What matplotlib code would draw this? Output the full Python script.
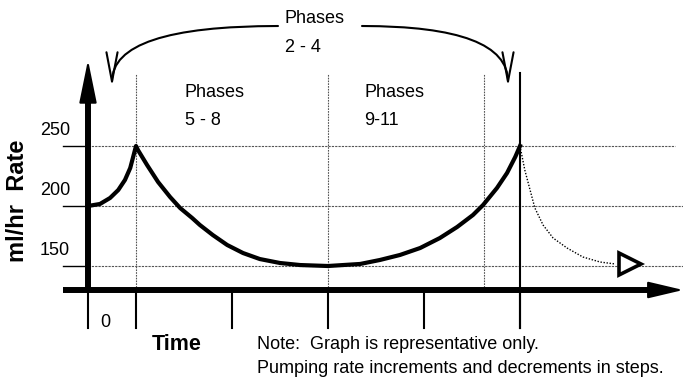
import matplotlib
matplotlib.use("Agg")
from matplotlib import pyplot as plt
from matplotlib.transforms import Affine2D

plt.rcParams['font.family'] = ['Liberation Sans', 'DejaVu Sans']

# rate curve (time units, ml/hr)
curve_t = [0.0, 0.25, 0.46, 0.63, 0.77, 0.88, 0.94, 1.0,
           1.04, 1.23, 1.46, 1.71, 1.92, 2.17, 2.33, 2.6, 2.9, 3.23, 3.58, 4.0, 4.42, 5.0,
           5.67, 6.08, 6.5, 6.92, 7.33, 7.69, 8.02, 8.23, 8.52, 8.73, 8.9, 9.0]
curve_r = [200, 201.7, 206.7, 213.3, 221.7, 231.7, 240.8, 250,
           246.7, 234.2, 220, 207.5, 198.3, 190, 184.2, 175.8, 167.5, 160.8, 155.8, 152.5, 150.8, 150,
           151.7, 155, 159.2, 165, 173.3, 182.5, 192.5, 200.8, 215, 227.5, 240.8, 250]

# dotted decay after the last phase
tail_t = [9.0, 9.1, 9.21, 9.31, 9.48, 9.69, 9.98, 10.31, 10.67, 10.98]
tail_r = [250, 230, 213.3, 198.3, 184.2, 173.3, 165, 157.5, 153.3, 151.7]
tail_end = (11.3, 151.7)

rate_levels = [250, 200, 150]
rate_labels = ["250", "200", "150"]
time_ticks = [0, 1, 3, 5, 7, 9]
phase_lines = [1, 5, 8.25]

W, H = 683, 380
fig = plt.figure(figsize=(W / 100, H / 100), dpi=100)
ax = fig.add_axes([0, 0, 1, 1])
# 48 px per time unit, 1.2 px per ml/hr
ax.set_xlim(-88 / 48, (W - 88) / 48)
ax.set_ylim(250 - (H - 146) / 1.2, 250 + 146 / 1.2)
ax.axis("off")

# pixel coords (origin top-left) for the annotations
pix = Affine2D().scale(1 / W, -1 / H).translate(0, 1) + fig.transFigure

x0, base, top, tick_bot = -0.52, 130, 310, 98.3

# grid lines
for r in rate_levels:
    ax.plot([x0, 0], [r, r], color="k", lw=1)
    end = 12.23 if r == 250 else 12.4
    ax.plot([0, end], [r, r], color="#555555", lw=0.8, ls=(0, (2, 1)))
for t in phase_lines:
    ax.plot([t, t], [base, top], color="#555555", lw=0.8, ls=(0, (1.5, 1)))
for t in time_ticks:
    ax.plot([t, t], [tick_bot, base], color="k", lw=1.5)
ax.plot([9, 9], [tick_bot, 310.8], color="k", lw=1.5)

# axes with arrows
ax.plot([x0, 11.7], [base, base], color="k", lw=4.3, solid_capstyle="butt")
ax.plot([0, 0], [base - 2, 290], color="k", lw=4.3, solid_capstyle="butt")
ax.annotate("", xy=(0, 321.7), xytext=(0, 280),
            arrowprops=dict(arrowstyle="-|>,head_length=27,head_width=5.5", lw=1.5,
                            color="k", mutation_scale=1, shrinkA=0, shrinkB=0))
ax.annotate("", xy=(12.4, base), xytext=(11.5, base),
            arrowprops=dict(arrowstyle="-|>,head_length=22,head_width=5.2", lw=1.5,
                            color="k", mutation_scale=1, shrinkA=0, shrinkB=0))

# curves
ax.plot(curve_t, curve_r, color="k", lw=3, solid_joinstyle="round")
ax.plot(tail_t, tail_r, color="k", lw=1, ls=(0, (1, 1.2)))
ax.plot(*tail_end, marker=">", ms=16, mfc="white", mec="k", mew=2.6)

# top arcs
for start, end in [((278, 26), (112, 87)), ((362, 26), (508, 87))]:
    ax.annotate("", xy=end, xycoords=pix, xytext=start, textcoords=pix,
                arrowprops=dict(arrowstyle="->,head_length=21,head_width=4", lw=1.5,
                                color="k", mutation_scale=1, shrinkA=0, shrinkB=0,
                                connectionstyle="angle3,angleA=0,angleB=90"))

fs = 13
def label(x, y, s, **kw):
    ax.text(x, y, s, transform=pix, fontsize=kw.pop("fontsize", fs), va="baseline", **kw)

label(285, 23, "Phases")
label(285, 52, "2 - 4")
label(185, 97, "Phases")
label(185, 125, "5 - 8")
label(364, 97, "Phases")
label(364, 125, "9-11")
for lab, yb in zip(rate_labels, [135, 195, 255]):
    label(40, yb, lab)
label(100, 327, "0")
label(152, 350, "Time", fontsize=15.5, fontweight="bold")
label(257, 349, "Note:  Graph is representative only.")
label(257, 373, "Pumping rate increments and decrements in steps.")
ax.text(18, 201, "ml/hr  Rate", transform=pix, rotation=90, fontsize=17,
        fontweight="bold", ha="center", va="center")

plt.savefig("out.png", dpi=100)
